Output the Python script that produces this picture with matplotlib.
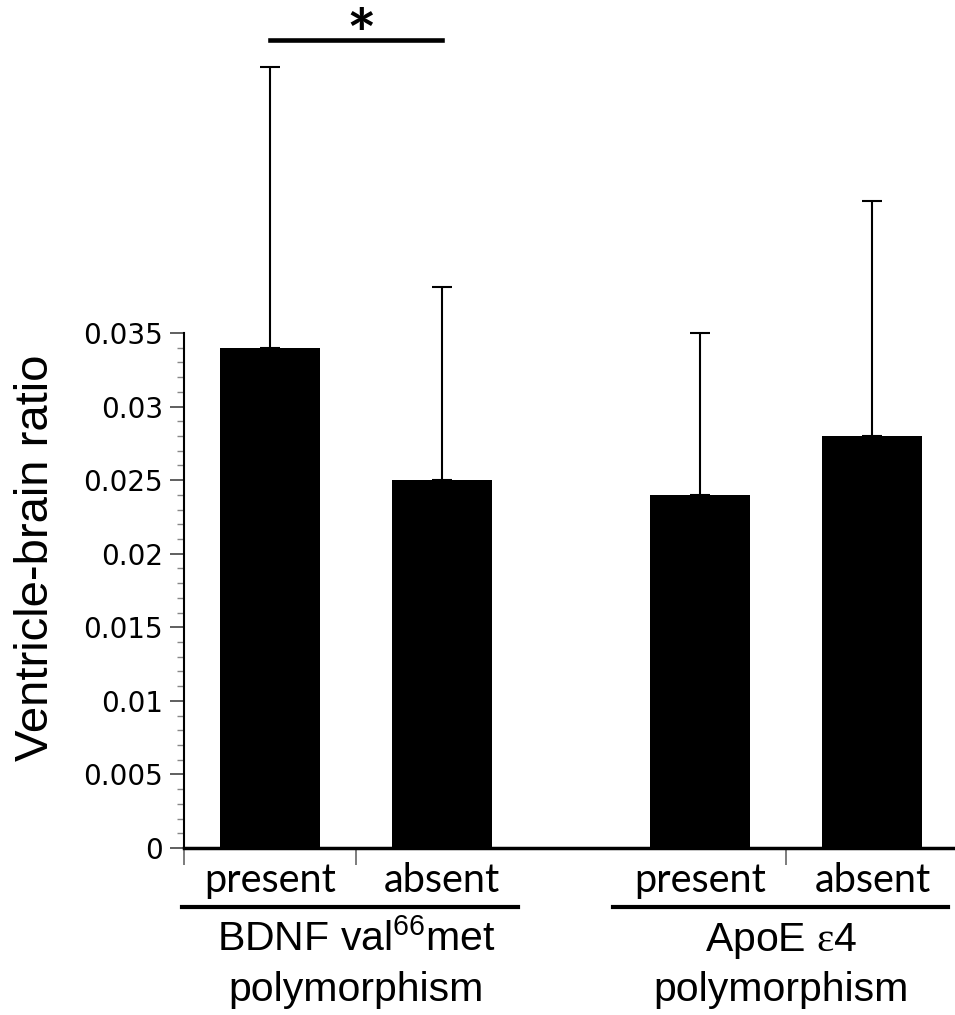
import matplotlib
matplotlib.use("Agg")
import matplotlib.pyplot as plt

# 数据
group_line1 = ["BDNF val$^{66}$met", "ApoE $\\mathsf{ε}$4"]
group_line2 = ["polymorphism", "polymorphism"]
group_centers = [0.5, 2.97]
conditions = ["present", "absent", "present", "absent"]
positions = [0, 1, 2.5, 3.5]
ratio_mean = [0.034, 0.025, 0.024, 0.028]
ratio_err = [0.0191, 0.0131, 0.011, 0.016]
y_ticks = [0, 0.005, 0.01, 0.015, 0.02, 0.025, 0.03, 0.035]
y_ticklabels = ["0", "0.005", "0.01", "0.015", "0.02", "0.025", "0.03", "0.035"]

plt.rcParams['mathtext.fontset'] = 'custom'
plt.rcParams['mathtext.rm'] = 'Liberation Sans'
plt.rcParams['mathtext.it'] = 'Liberation Sans:italic'
plt.rcParams['mathtext.sf'] = 'Liberation Serif'

fig = plt.figure(figsize=(9.55, 10.15), dpi=100)
ax = fig.add_axes([184 / 955, 167 / 1015, 1 - 184 / 955, 838 / 1015])

ax.bar(positions, ratio_mean, width=0.58, color="black",
       yerr=[[0] * 4, ratio_err], capsize=7,
       error_kw=dict(elinewidth=1.5, capthick=1.5, ecolor="black"))

ax.set_xlim(-0.5, 3.98)
ax.set_ylim(0, 0.035 * 838 / 515)

# 坐标轴样式
for s in ["top", "right"]:
    ax.spines[s].set_visible(False)
ax.spines["left"].set_bounds(0, 0.035)
ax.spines["left"].set_linewidth(1.5)
ax.spines["bottom"].set_linewidth(2.5)

ax.set_yticks(y_ticks, y_ticklabels)
ax.set_yticks([i * 0.001 for i in range(36)], minor=True)
ax.tick_params(axis="y", which="major", length=10, width=1.2, pad=5,
               labelsize=20, color="#444444")
ax.tick_params(axis="y", which="minor", length=5, width=1, color="#888888")
for lab in ax.get_yticklabels():
    lab.set_fontfamily("DejaVu Sans")

ax.set_xticks(positions, conditions)
ax.set_xticks([-0.5, 0.5, 3.0], minor=True)
ax.tick_params(axis="x", which="major", length=0, pad=10, labelsize=28.5)
ax.tick_params(axis="x", which="minor", length=12, width=1.2, color="#666666")
for lab in ax.get_xticklabels():
    lab.set_fontfamily("Lato")

ax.set_ylabel("Ventricle-brain ratio", fontsize=34, family="Liberation Sans")
ax.yaxis.set_label_coords(-0.163, 0.346)

# 分组线和标签
trans = ax.get_xaxis_transform()
ax.plot([-0.51, 1.44], [-0.0704, -0.0704], color="black", lw=3,
        transform=trans, clip_on=False)
ax.plot([1.99, 3.94], [-0.0704, -0.0704], color="black", lw=3,
        transform=trans, clip_on=False)
for gx, t1, t2 in zip(group_centers, group_line1, group_line2):
    ax.text(gx, -0.1229, t1, transform=trans, ha="center", va="baseline",
            fontsize=29.5, family="Liberation Sans")
    ax.text(gx, -0.1826, t2, transform=trans, ha="center", va="baseline",
            fontsize=29.5, family="Liberation Sans")

# 显著性标记
ax.plot([0, 1], [0.0549, 0.0549], color="black", lw=3.3, clip_on=False)
ax.text(0.53, 0.05498, "*", ha="center", va="center", fontsize=50,
        family="Lato", fontweight="bold")

fig.savefig("out.png", dpi=100)
